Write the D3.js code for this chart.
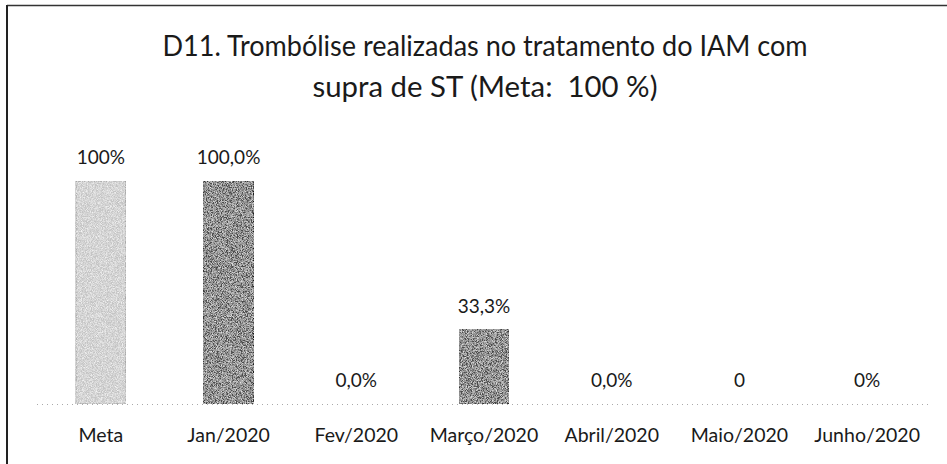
<!DOCTYPE html>
<html>
<head>
  <meta charset="UTF-8">
  <style>
    body { margin: 0; background: #fff; }
    svg { display: block; }
    text { font-family: Lato, "Open Sans", sans-serif; fill: #1a1a1a; white-space: pre; }
  </style>
</head>
<body>
<svg></svg>
<script src="https://d3js.org/d3.v7.min.js"></script>
<script>

let width = 947, height = 464;

// chart data
let categories = ["Meta", "Jan/2020", "Fev/2020", "Março/2020", "Abril/2020", "Maio/2020", "Junho/2020"];
let values = [100, 100, 0, 33.3, 0, 0, 0];
let valueLabels = ["100%", "100,0%", "0,0%", "33,3%", "0,0%", "0", "0%"];
let titleLines = ["D11. Trombólise realizadas no tratamento do IAM com", "supra de ST (Meta:  100 %)"];

let svg = d3.select("svg")
    .attr("width", width)
    .attr("height", height)

// grainy look of the scanned bars
let defs = svg.append("defs")
let grain = defs.append("filter").attr("id", "grain")
    .attr("x", 0).attr("y", 0).attr("width", 1).attr("height", 1)
grain.append("feTurbulence").attr("type", "fractalNoise")
    .attr("baseFrequency", 1.2).attr("numOctaves", 2).attr("seed", 4).attr("result", "n")
grain.append("feColorMatrix").attr("in", "n").attr("type", "matrix")
    .attr("values", "0 0 0 0 1  0 0 0 0 1  0 0 0 0 1  1.6 0 0 0 -0.55")
    .attr("result", "w")
grain.append("feComposite").attr("in", "w").attr("in2", "SourceGraphic").attr("operator", "in").attr("result", "wi")
grain.append("feMerge").call(m => {
    m.append("feMergeNode").attr("in", "SourceGraphic")
    m.append("feMergeNode").attr("in", "wi")
})

// scanned frame (top and left edges)
svg.append("line").attr("x1", 7).attr("x2", width).attr("y1", 5.5).attr("y2", 5.5)
    .attr("stroke", "#333").attr("stroke-width", 1.5)
svg.append("line").attr("x1", 7).attr("x2", 7).attr("y1", 5).attr("y2", height)
    .attr("stroke", "#222").attr("stroke-width", 2)

// title, squeezed to the width measured on the reference
let titleWidths = [645, 345];
svg.append("g").selectAll("text")
    .data(titleLines)
    .enter()
    .append("text")
    .attr("x", 485)
    .attr("y", (d, i) => 56 + i * 41)
    .attr("text-anchor", "middle")
    .style("font-size", "28px")
    .text(d => d)
    .attr("textLength", (d, i) => titleWidths[i])
    .attr("lengthAdjust", "spacingAndGlyphs")

let x = d3.scaleBand()
    .domain(categories)
    .range([37, 931])
    .paddingInner(0.61)
    .paddingOuter(0.305)

let y = d3.scaleLinear()
    .domain([0, 100])
    .range([404, 181])

// dotted baseline
svg.append("line")
    .attr("x1", 37).attr("x2", 931)
    .attr("y1", y(0) + 0.5).attr("y2", y(0) + 0.5)
    .attr("stroke", "#aaa").attr("stroke-dasharray", "1,4")

let fills = ["#c4c4c4", "#4b4b4b", "#4b4b4b", "#4b4b4b", "#4b4b4b", "#4b4b4b", "#4b4b4b"];

let bars = svg.append("g")
categories.forEach((c, i) => {
    if (values[i] <= 0) return;
    bars.append("rect")
        .attr("x", x(c))
        .attr("width", x.bandwidth())
        .attr("y", y(values[i]))
        .attr("height", y(0) - y(values[i]))
        .attr("fill", fills[i])
        .attr("stroke", i == 0 ? "#9a9a9a" : "#1a1a1a")
        .attr("stroke-width", 1)
        .attr("filter", "url(#grain)")
})

// value labels
svg.append("g").selectAll("text")
    .data(categories)
    .enter()
    .append("text")
    .attr("x", d => x(d) + x.bandwidth() / 2)
    .attr("y", (d, i) => y(values[i]) - 17)
    .attr("text-anchor", "middle")
    .style("font-size", "19px")
    .text((d, i) => valueLabels[i])

// category axis
let xAxis = svg.append("g")
    .attr("transform", "translate(0," + 404 + ")")
    .call(d3.axisBottom(x).tickSize(0).tickPadding(24))
xAxis.select(".domain").remove()
xAxis.selectAll("text")
    .style("font-size", "19.5px")
    .style("font-family", "Lato, sans-serif")
    .attr("fill", "#1a1a1a")

</script>
</body>
</html>
